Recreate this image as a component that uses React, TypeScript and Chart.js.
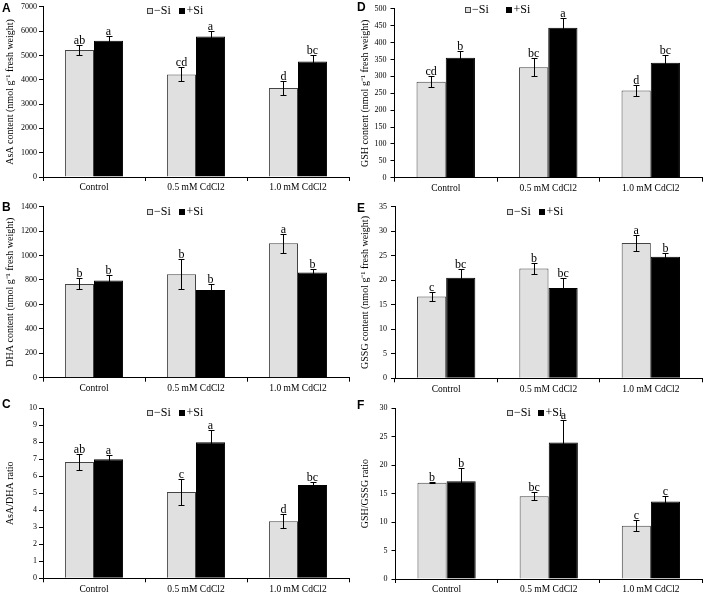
import React, { useEffect, useRef } from 'react';
import { Chart, registerables } from 'chart.js';
Chart.register(...registerables);

const categories = ['Control', '0.5 mM CdCl2', '1.0 mM CdCl2'];
const seriesNames = ['\u2212Si', '+Si'];

// A: AsA content
const asaMinus = [5220, 4220, 3660];
const asaMinusErr = [220, 290, 280];
const asaPlus = [5600, 5780, 4750];
const asaPlusErr = [200, 210, 260];
const asaMinusLetters = ['ab', 'cd', 'd'];
const asaPlusLetters = ['a', 'a', 'bc'];

// B: DHA content
const dhaMinus = [768, 846, 1100];
const dhaMinusErr = [45, 123, 75];
const dhaPlus = [795, 718, 862];
const dhaPlusErr = [47, 46, 28];
const dhaMinusLetters = ['b', 'b', 'a'];
const dhaPlusLetters = ['b', 'b', 'b'];

// C: AsA/DHA ratio
const ratioAMinus = [6.84, 5.07, 3.36];
const ratioAMinusErr = [0.49, 0.75, 0.42];
const ratioAPlus = [7.0, 8.0, 5.49];
const ratioAPlusErr = [0.28, 0.7, 0.17];
const ratioAMinusLetters = ['ab', 'c', 'd'];
const ratioAPlusLetters = ['a', 'a', 'bc'];

// D: GSH content
const gshMinus = [284, 327, 258];
const gshMinusErr = [16, 26, 17];
const gshPlus = [355, 444, 340];
const gshPlusErr = [20, 28, 23];
const gshMinusLetters = ['cd', 'bc', 'd'];
const gshPlusLetters = ['b', 'a', 'bc'];

// E: GSSG content
const gssgMinus = [16.7, 22.4, 27.6];
const gssgMinusErr = [0.9, 1.1, 1.6];
const gssgPlus = [20.5, 18.4, 24.8];
const gssgPlusErr = [1.8, 2.0, 0.7];
const gssgMinusLetters = ['c', 'b', 'a'];
const gssgPlusLetters = ['bc', 'bc', 'b'];

// F: GSH/GSSG ratio
const ratioGMinus = [16.93, 14.55, 9.35];
const ratioGMinusErr = [0.1, 0.7, 1.0];
const ratioGPlus = [17.2, 24.0, 13.6];
const ratioGPlusErr = [2.35, 4.0, 0.9];
const ratioGMinusLetters = ['b', 'bc', 'c'];
const ratioGPlusLetters = ['b', 'a', 'c'];

const SERIF = '"Liberation Serif", "Times New Roman", serif';
const SANS = '"Liberation Sans", Arial, sans-serif';
const GRAY = '#e0e0e0';
const GRAY_BORDER = '#444444';

type Panel = {
  letter: string;
  title: string;
  minus: number[]; minusErr: number[]; plus: number[]; plusErr: number[];
  minusLetters: string[]; plusLetters: string[];
  max: number; step: number;
  box: { x: number; y: number; w: number; h: number };
  plot: { left: number; top: number; right: number; bottom: number };
  legend: { x1: number; x2: number; y: number };
  tag: { x: number; y: number };
  tickPad: number;
};

const panels: Panel[] = [
  {
    letter: 'A', title: 'AsA content (nmol g\u207B\u00B9 fresh weight)',
    minus: asaMinus, minusErr: asaMinusErr, plus: asaPlus, plusErr: asaPlusErr,
    minusLetters: asaMinusLetters, plusLetters: asaPlusLetters, max: 7000, step: 1000,
    box: { x: 0, y: 0, w: 355, h: 205 }, plot: { left: 43, top: 5.5, right: 349, bottom: 177 },
    legend: { x1: 147, x2: 179, y: 11 }, tag: { x: 2, y: 3 }, tickPad: 2,
  },
  {
    letter: 'B', title: 'DHA content (nmol g\u207B\u00B9 fresh weight)',
    minus: dhaMinus, minusErr: dhaMinusErr, plus: dhaPlus, plusErr: dhaPlusErr,
    minusLetters: dhaMinusLetters, plusLetters: dhaPlusLetters, max: 1400, step: 200,
    box: { x: 0, y: 195, w: 355, h: 205 }, plot: { left: 43, top: 11.7, right: 349, bottom: 182.7 },
    legend: { x1: 147, x2: 179, y: 17 }, tag: { x: 2, y: 7 }, tickPad: 2,
  },
  {
    letter: 'C', title: 'AsA/DHA ratio',
    minus: ratioAMinus, minusErr: ratioAMinusErr, plus: ratioAPlus, plusErr: ratioAPlusErr,
    minusLetters: ratioAMinusLetters, plusLetters: ratioAPlusLetters, max: 10, step: 1,
    box: { x: 0, y: 390, w: 355, h: 204 }, plot: { left: 43, top: 18.3, right: 349, bottom: 188.3 },
    legend: { x1: 147, x2: 179, y: 23 }, tag: { x: 2, y: 9 }, tickPad: 2,
  },
  {
    letter: 'D', title: 'GSH content (nmol g\u207B\u00B9 fresh weight)',
    minus: gshMinus, minusErr: gshMinusErr, plus: gshPlus, plusErr: gshPlusErr,
    minusLetters: gshMinusLetters, plusLetters: gshPlusLetters, max: 500, step: 50,
    box: { x: 355, y: 0, w: 355, h: 205 }, plot: { left: 39.5, top: 6.7, right: 347, bottom: 177.7 },
    legend: { x1: 110, x2: 151, y: 10 }, tag: { x: 2, y: 2 }, tickPad: 4,
  },
  {
    letter: 'E', title: 'GSSG content (nmol g\u207B\u00B9 fresh weight)',
    minus: gssgMinus, minusErr: gssgMinusErr, plus: gssgPlus, plusErr: gssgPlusErr,
    minusLetters: gssgMinusLetters, plusLetters: gssgPlusLetters, max: 35, step: 5,
    box: { x: 355, y: 195, w: 355, h: 205 }, plot: { left: 40, top: 11.7, right: 347, bottom: 183.3 },
    legend: { x1: 152, x2: 184, y: 17 }, tag: { x: 2, y: 8 }, tickPad: 4,
  },
  {
    letter: 'F', title: 'GSH/GSSG ratio',
    minus: ratioGMinus, minusErr: ratioGMinusErr, plus: ratioGPlus, plusErr: ratioGPlusErr,
    minusLetters: ratioGMinusLetters, plusLetters: ratioGPlusLetters, max: 30, step: 5,
    box: { x: 355, y: 390, w: 355, h: 204 }, plot: { left: 40.5, top: 18.3, right: 347, bottom: 189 },
    legend: { x1: 152, x2: 183, y: 23 }, tag: { x: 2, y: 10 }, tickPad: 4,
  },
];

function makeOverlay(p: Panel) {
  return {
    id: 'overlay' + p.letter,
    afterDatasetsDraw(chart: any) {
      const ctx = chart.ctx;
      const ys = chart.scales.y;
      const sets = [
        { vals: p.minus, errs: p.minusErr, labels: p.minusLetters },
        { vals: p.plus, errs: p.plusErr, labels: p.plusLetters },
      ];
      ctx.save();
      sets.forEach((s, di) => {
        const meta = chart.getDatasetMeta(di);
        meta.data.forEach((bar: any, i: number) => {
          const xx = Math.round(bar.x) + 0.5;
          const top = Math.round(ys.getPixelForValue(s.vals[i] + s.errs[i])) + 0.5;
          const bot = Math.round(ys.getPixelForValue(s.vals[i] - s.errs[i])) + 0.5;
          ctx.strokeStyle = '#000';
          ctx.lineWidth = 1;
          ctx.beginPath();
          ctx.moveTo(xx, top); ctx.lineTo(xx, bot);
          ctx.moveTo(xx - 3, top); ctx.lineTo(xx + 3, top);
          ctx.moveTo(xx - 3, bot); ctx.lineTo(xx + 3, bot);
          ctx.stroke();
          ctx.fillStyle = '#000';
          ctx.font = '12px ' + SERIF;
          ctx.textAlign = 'center';
          ctx.textBaseline = 'alphabetic';
          ctx.fillText(s.labels[i], bar.x, top - 2);
        });
      });
      ctx.restore();
    },
    afterDraw(chart: any) {
      const ctx = chart.ctx;
      ctx.save();
      const { x1, x2, y } = p.legend;
      ctx.lineWidth = 1;
      ctx.fillStyle = GRAY;
      ctx.fillRect(x1 + 0.5, y - 2.5, 5, 5);
      ctx.strokeStyle = GRAY_BORDER;
      ctx.strokeRect(x1 + 0.5, y - 2.5, 5, 5);
      ctx.fillStyle = '#000';
      ctx.fillRect(x2, y - 3, 6, 6);
      ctx.font = '12px ' + SERIF;
      ctx.textAlign = 'left';
      ctx.textBaseline = 'middle';
      ctx.fillText(seriesNames[0], x1 + 7, y);
      ctx.fillText(seriesNames[1], x2 + 7.5, y);
      ctx.font = 'bold 12px ' + SANS;
      ctx.textBaseline = 'top';
      ctx.fillText(p.letter, p.tag.x, p.tag.y);
      ctx.restore();
    },
  };
}

function PanelChart({ p }: { p: Panel }) {
  const ref = useRef<HTMLCanvasElement>(null);
  useEffect(() => {
    if (!ref.current) return;
    const chart = new Chart(ref.current, {
      type: 'bar',
      data: {
        labels: categories,
        datasets: [
          {
            label: seriesNames[0], data: p.minus, backgroundColor: GRAY,
            borderColor: GRAY_BORDER, borderWidth: 1,
            categoryPercentage: 0.57, barPercentage: 1,
          },
          {
            label: seriesNames[1], data: p.plus, backgroundColor: '#000',
            borderColor: '#000', borderWidth: 1,
            categoryPercentage: 0.57, barPercentage: 1,
          },
        ],
      },
      options: {
        responsive: false,
        animation: false,
        layout: {
          padding: {
            left: 0,
            top: p.plot.top,
            right: p.box.w - p.plot.right,
            bottom: 0,
          },
        },
        plugins: { legend: { display: false }, tooltip: { enabled: false }, title: { display: false } },
        scales: {
          x: {
            type: 'category',
            grid: { offset: true, drawOnChartArea: false, drawTicks: true, tickLength: 4, color: '#000', lineWidth: 1 },
            border: { display: true, color: '#000', width: 1 },
            ticks: { color: '#000', font: { family: SERIF, size: 9.5 }, padding: 1, maxRotation: 0, autoSkip: false },
            afterFit: (scale: any) => { scale.height = p.box.h - p.plot.bottom; },
          },
          y: {
            min: 0, max: p.max,
            grid: { drawOnChartArea: false, drawTicks: true, tickLength: 4, color: '#000', lineWidth: 1 },
            border: { display: true, color: '#000', width: 1 },
            ticks: {
              stepSize: p.step, color: '#000', font: { family: SERIF, size: 8 }, padding: p.tickPad,
              callback: (v: any) => String(v),
            },
            title: { display: true, text: p.title, color: '#000', font: { family: SERIF, size: 10 }, padding: { top: 4, bottom: 0 } },
            afterFit: (scale: any) => { scale.width = p.plot.left; },
          },
        },
      },
      plugins: [makeOverlay(p)],
    } as any);
    return () => chart.destroy();
  }, [p]);
  return (
    <canvas
      ref={ref}
      width={p.box.w}
      height={p.box.h}
      style={{ position: 'absolute', left: p.box.x, top: p.box.y, width: p.box.w, height: p.box.h }}
    />
  );
}

export default function App() {
  return (
    <div style={{ position: 'absolute', left: 0, top: 0, width: 710, height: 594, background: '#fff', overflow: 'hidden' }}>
      {panels.map((p) => (
        <PanelChart key={p.letter} p={p} />
      ))}
    </div>
  );
}
